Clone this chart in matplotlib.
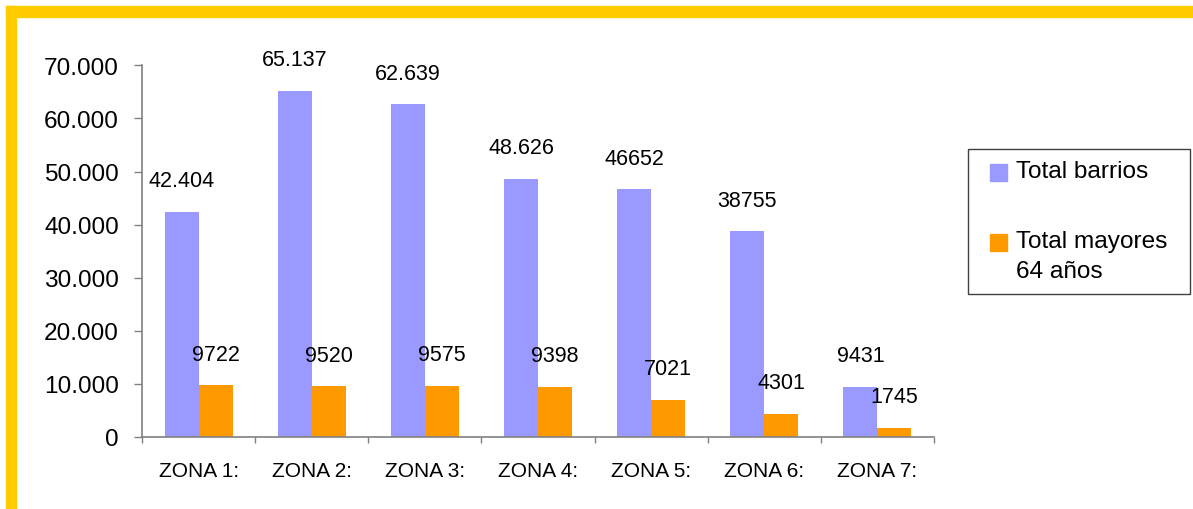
import matplotlib
matplotlib.use("Agg")
import matplotlib.pyplot as plt
from matplotlib.patches import Rectangle
from matplotlib.ticker import FuncFormatter, FixedLocator
import numpy as np

plt.rcParams['font.family'] = ['Liberation Sans', 'DejaVu Sans']

categories = ["ZONA 1:", "ZONA 2:", "ZONA 3:", "ZONA 4:", "ZONA 5:", "ZONA 6:", "ZONA 7:"]
total_barrios = [42404, 65137, 62639, 48626, 46652, 38755, 9431]
total_mayores = [9722, 9520, 9575, 9398, 7021, 4301, 1745]
labels_barrios = ["42.404", "65.137", "62.639", "48.626", "46652", "38755", "9431"]
labels_mayores = ["9722", "9520", "9575", "9398", "7021", "4301", "1745"]
series_names = ["Total barrios", "Total mayores\n64 años"]
y_ticks = [0, 10000, 20000, 30000, 40000, 50000, 60000, 70000]

c_blue = "#9999FF"
c_orange = "#FF9900"
c_axis = "#808080"
c_yellow = "#FFCC00"

W, H = 1193, 510
fig = plt.figure(figsize=(W / 100, H / 100), dpi=100)

def fx(px):
    return px / W

def fy(py):
    return 1 - py / H

# yellow frame (top & left)
fig.patches.append(Rectangle((fx(6), fy(17.7)), 1 - fx(6), fy(7) - fy(17.7),
                             transform=fig.transFigure, color=c_yellow, zorder=0))
fig.patches.append(Rectangle((fx(6), 0), fx(16) - fx(6), fy(7),
                             transform=fig.transFigure, color=c_yellow, zorder=0))

ax = fig.add_axes([fx(142), fy(438), fx(934) - fx(142), fy(66.3) - fy(438)])

n = len(categories)
x = np.arange(n) + 0.5
bw = 0.30
ax.bar(x - bw / 2, total_barrios, bw, color=c_blue, zorder=2)
ax.bar(x + bw / 2, total_mayores, bw, color=c_orange, zorder=2)

lab_kw = dict(textcoords="offset points", xytext=(0, 18.5), ha="center", va="baseline",
              fontsize=15.5, color="black", zorder=5, annotation_clip=False)
for xi, v, s in zip(x, total_barrios, labels_barrios):
    ax.annotate(s, (xi - bw / 2, v), **lab_kw)
for xi, v, s in zip(x, total_mayores, labels_mayores):
    ax.annotate(s, (xi + bw / 2, v), **lab_kw)

ax.set_xlim(0, n)
ax.set_ylim(0, 70000)
ax.set_yticks(y_ticks)
ax.yaxis.set_major_formatter(FuncFormatter(lambda v, p: f"{v:,.0f}".replace(",", ".")))
ax.tick_params(axis="y", direction="out", length=6, width=1, color=c_axis,
               labelsize=17.6, pad=10.5)

ax.xaxis.set_major_locator(FixedLocator(np.arange(n + 1)))
ax.xaxis.set_minor_locator(FixedLocator(x))
ax.set_xticklabels([], minor=False)
ax.set_xticklabels(categories, minor=True)
ax.tick_params(axis="x", which="major", direction="out", length=4, width=1, color=c_axis)
ax.tick_params(axis="x", which="minor", length=0, labelsize=15, pad=17)

for s in ["top", "right"]:
    ax.spines[s].set_visible(False)
for s in ["left", "bottom"]:
    ax.spines[s].set_color(c_axis)
    ax.spines[s].set_linewidth(1.2)

# legend (manual)
fig.patches.append(Rectangle((fx(968), fy(295)), fx(1190) - fx(968), fy(150) - fy(295),
                             transform=fig.transFigure, facecolor="white",
                             edgecolor="#404040", linewidth=1.0, zorder=3))
leg_colors = [c_blue, c_orange]
marker_tops = [165, 235]
text_baselines = [178, 248]
for name, col, mt, tb in zip(series_names, leg_colors, marker_tops, text_baselines):
    fig.patches.append(Rectangle((fx(990), fy(mt + 17)), fx(1007) - fx(990), fy(mt) - fy(mt + 17),
                                 transform=fig.transFigure, color=col, zorder=4))
    for i, line in enumerate(name.split("\n")):
        fig.text(fx(1015.5), fy(tb + 30.5 * i), line, fontsize=17.6, ha="left",
                 va="baseline", color="black", zorder=5)

fig.savefig("out.png", dpi=100, facecolor="white")
